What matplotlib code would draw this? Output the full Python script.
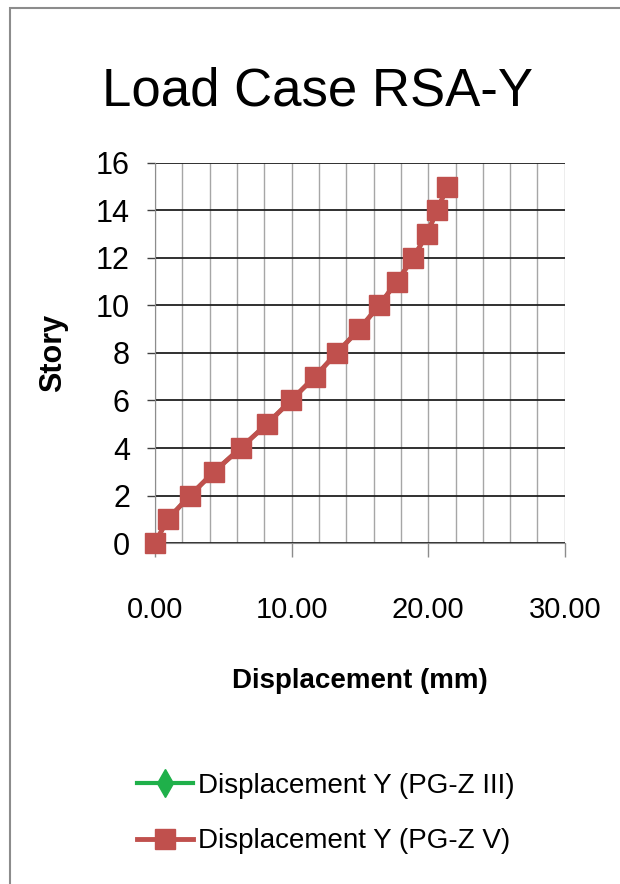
import matplotlib
matplotlib.use("Agg")
import matplotlib.pyplot as plt
from matplotlib.patches import Rectangle
from matplotlib.ticker import MultipleLocator, FormatStrFormatter

# Story drift data
stories = [0, 1, 2, 3, 4, 5, 6, 7, 8, 9, 10, 11, 12, 13, 14, 15]
disp_pgz3 = [0.0, 0.93, 2.56, 4.32, 6.27, 8.17, 9.95, 11.7, 13.3, 14.95,
             16.4, 17.7, 18.9, 19.9, 20.65, 21.4]
disp_pgz5 = [0.0, 0.93, 2.56, 4.32, 6.27, 8.17, 9.95, 11.7, 13.3, 14.95,
             16.4, 17.7, 18.9, 19.9, 20.65, 21.4]
labels = ["Displacement Y (PG-Z III)", "Displacement Y (PG-Z V)"]

FONT = ["Liberation Sans", "DejaVu Sans"]
plt.rcParams["font.family"] = FONT

fig = plt.figure(figsize=(6.2, 8.84), dpi=100)
ax = fig.add_axes([0.25, 0.3857, 0.661, 0.430])

# outer chart frame (runs off the right and bottom edges)
fig.patches.append(Rectangle((10 / 620, -0.05), 1.0, 1 - 8 / 884 + 0.05,
                             transform=fig.transFigure, fill=False,
                             edgecolor="#8c8c8c", linewidth=1.5))

# PG-Z III sits exactly under PG-Z V, so it is hidden in the plot
ax.plot(disp_pgz3, stories, color="#1fb04a", linewidth=3.0, marker="d",
        markersize=10, label=labels[0], zorder=3)
ax.plot(disp_pgz5, stories, color="#c0504d", linewidth=3.5, marker="s",
        markersize=14.5, label=labels[1], zorder=4, clip_on=False)

ax.set_xlim(0, 30)
ax.set_ylim(0, 16)
ax.xaxis.set_major_locator(MultipleLocator(10))
ax.xaxis.set_minor_locator(MultipleLocator(2))
ax.yaxis.set_major_locator(MultipleLocator(2))
ax.xaxis.set_major_formatter(FormatStrFormatter("%.2f"))

ax.grid(axis="x", which="both", color="#a6a6a6", linewidth=1.0)
ax.grid(axis="y", which="major", color="#202020", linewidth=1.3)
ax.set_axisbelow(True)
for s in ax.spines.values():
    s.set_visible(False)
ax.spines["left"].set_visible(True)
ax.spines["bottom"].set_visible(True)
ax.spines["left"].set_color("#8c8c8c")
ax.spines["bottom"].set_color("#8c8c8c")

ax.tick_params(axis="x", which="major", length=10, width=1, color="#8c8c8c",
               pad=28, labelsize=21)
ax.tick_params(axis="x", which="minor", length=0)
ax.tick_params(axis="y", length=6, width=1, color="#404040", pad=12,
               labelsize=22)

fig.text(318 / 620, 1 - 105 / 884, "Load Case RSA-Y", fontsize=38,
         ha="center", va="baseline")
ax.set_xlabel("Displacement (mm)", fontsize=20, fontweight="bold", labelpad=32)
ax.set_ylabel("Story", fontsize=22, fontweight="bold", labelpad=20)

leg = fig.legend(loc="upper left", bbox_to_anchor=(126 / 620, 1 - 762 / 884),
                 frameon=False, fontsize=20, handlelength=2.0,
                 handletextpad=0.2, labelspacing=1.05, borderaxespad=0)
leg.legend_handles[0].set_markersize(14)
leg.legend_handles[1].set_markersize(14)

plt.savefig("out.png", dpi=100)
